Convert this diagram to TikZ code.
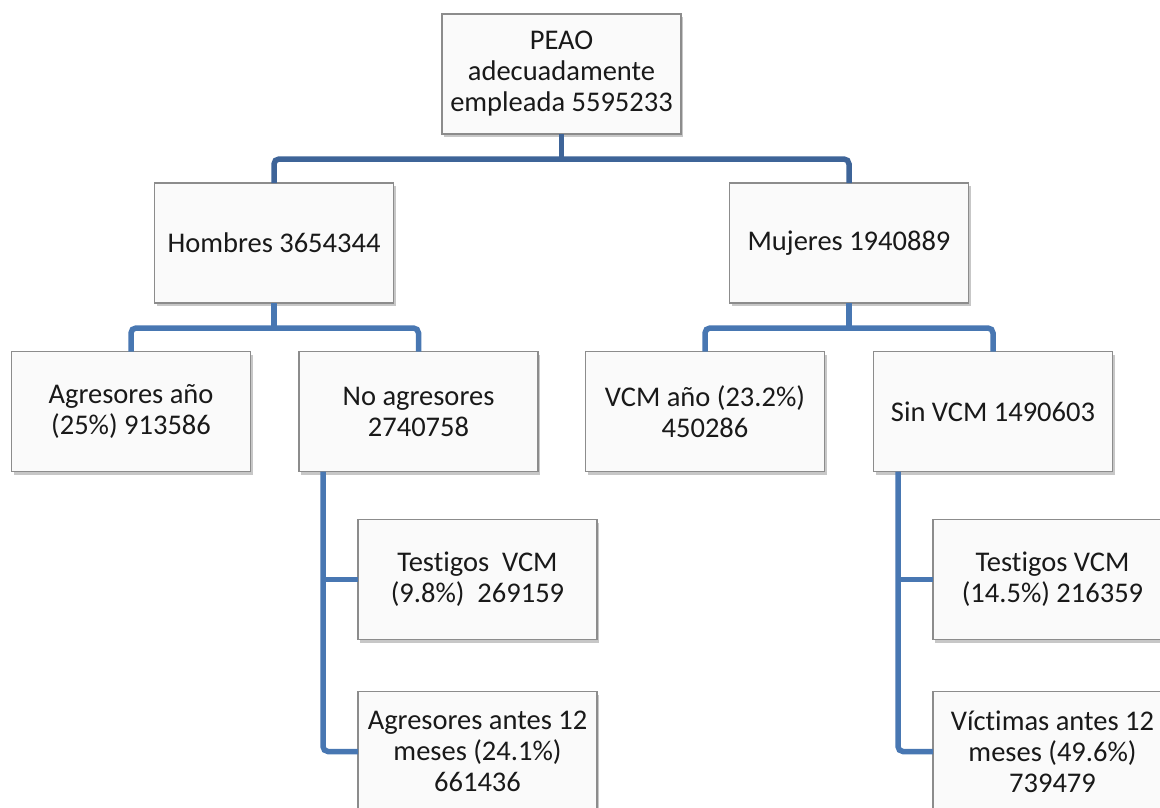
\documentclass[tikz,border=0pt]{standalone}
\usepackage{fontspec}
\setmainfont{Carlito}[Ligatures=NoCommon]
\usepackage{tikz}
\usetikzlibrary{positioning, shadows}

\definecolor{linkdark}{RGB}{62,100,152}
\definecolor{linkmid}{RGB}{72,119,178}
\definecolor{boxline}{RGB}{140,140,140}

\begin{document}
\begin{tikzpicture}[
    x=1pt, y=-1pt,
    org box/.style={
        draw=boxline, fill=white!98!black, rectangle, line width=1.4pt,
        minimum width=239pt, minimum height=120pt, inner sep=4pt, outer sep=0pt,
        font=\fontsize{28.5}{31}\selectfont, align=center, text=black!90,
        drop shadow={shadow xshift=2pt, shadow yshift=-3pt, fill=black, opacity=0.22}
    },
    link top/.style={draw=linkdark, line width=5.5pt, rounded corners=5pt},
    link/.style={draw=linkmid, line width=5.5pt, rounded corners=5pt}
]

% Marco de la imagen
\clip (0,0) rectangle (1160,807);

% ------------------------------------------------------------------------------
% 1. NIVEL SUPERIOR Y SEGUNDO NIVEL
% ------------------------------------------------------------------------------
\node[org box] (peao) at (561.5,74) {PEAO\\adecuadamente\\empleada 5595233};
\node[org box] (hom) at (274,243) {Hombres 3654344};
\node[org box] (muj) at (849,243) {Mujeres 1940889};

% ------------------------------------------------------------------------------
% 2. TERCER NIVEL
% ------------------------------------------------------------------------------
\node[org box] (agr) at (131,411.5) {Agresores año\\(25\%) 913586};
\node[org box] (noagr) at (418.5,411.5) {No agresores\\2740758};
\node[org box] (vcm) at (705,411.5) {VCM año (23.2\%)\\450286};
\node[org box] (sinvcm) at (993,411.5) {Sin VCM 1490603};

% ------------------------------------------------------------------------------
% 3. CUARTO NIVEL (Posicionamiento relativo en Y)
% ------------------------------------------------------------------------------
\node[org box] (testh) at (477.5,579.5) {Testigos~ VCM\\(9.8\%)~ 269159};
\node[org box, below=52pt of testh] (agrant) {Agresores antes 12\\meses (24.1\%)\\661436};
\node[org box] (testm) at (1052.5,579.5) {Testigos VCM\\(14.5\%) 216359};
\node[org box, below=52pt of testm] (victant) {Víctimas antes 12\\meses (49.6\%)\\739479};

% ------------------------------------------------------------------------------
% 4. CONECTORES
% ------------------------------------------------------------------------------
\draw[link top] (hom.north) |- (peao.south |- 0,159) -| (muj.north);
\draw[link top] (peao.south) -- (peao.south |- 0,159);

\draw[link] (agr.north) |- (hom.south |- 0,328) -| (noagr.north);
\draw[link] (hom.south) -- (hom.south |- 0,328);
\draw[link] (vcm.north) |- (muj.south |- 0,328) -| (sinvcm.north);
\draw[link] (muj.south) -- (muj.south |- 0,328);

\draw[link] (noagr.south -| 323,0) |- (agrant.west);
\draw[link, sharp corners] (testh.west -| 323,0) -- (testh.west);
\draw[link] (sinvcm.south -| 898,0) |- (victant.west);
\draw[link, sharp corners] (testm.west -| 898,0) -- (testm.west);

\end{tikzpicture}
\end{document}
